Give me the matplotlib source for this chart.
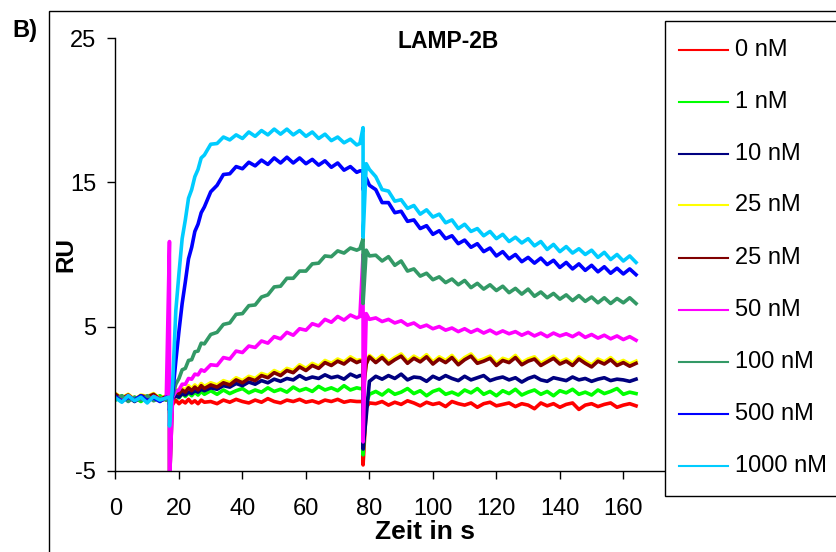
import matplotlib
matplotlib.use('Agg')
import matplotlib.pyplot as plt
from matplotlib.lines import Line2D
from matplotlib.patches import Rectangle

plt.rcParams['font.family'] = ['Liberation Sans', 'DejaVu Sans']
plt.rcParams['axes.unicode_minus'] = False

# sampling times (s); 17 and 78 appear twice for the injection spikes
t = [0, 2, 4, 6, 8, 10, 12, 14, 16,
     17, 17,
     18, 19, 20, 21, 22, 23, 24, 25, 26, 27, 28,
     30, 32, 34, 36, 38, 40, 42, 44, 46, 48, 50, 52, 54, 56, 58, 60, 62, 64, 66, 68, 70, 72, 74, 76,
     77, 78, 78, 79, 80,
     82, 84, 86, 88, 90, 92, 94, 96, 98, 100, 102, 104, 106, 108, 110, 112, 114, 116, 118, 120,
     122, 124, 126, 128, 130, 132, 134, 136, 138, 140, 142, 144, 146, 148, 150, 152, 154, 156, 158, 160,
     162, 164]

labels = ['0 nM', '1 nM', '10 nM', '25 nM', '25 nM', '50 nM', '100 nM', '500 nM', '1000 nM']
colors = ['#FF0000', '#00FF00', '#000080', '#FFFF00', '#800000', '#FF00FF', '#339966', '#0000FF', '#00CCFF']

ru_0 = [0.1, -0.2, 0.2, -0.1, 0.15, -0.2, 0.1, -0.15, 0.0,
        0.0, -0.3,
        -0.4, -0.1, -0.35, -0.15, -0.3, -0.05, -0.3, -0.15, -0.35, -0.1, -0.25,
        -0.2, -0.35, -0.1, -0.25, -0.05, -0.2, -0.3, -0.1, -0.25, 0.0, -0.2, -0.3,
        -0.1, -0.2, -0.05, -0.25, -0.15, -0.3, -0.1, -0.2, -0.05, -0.25, -0.15, -0.2,
        -0.2, -0.2, -4.6, -0.6, -0.3,
        -0.35, -0.2, -0.45, -0.25, -0.4, -0.15, -0.3, -0.5, -0.25, -0.4,
        -0.3, -0.55, -0.2, -0.35, -0.45, -0.3, -0.6, -0.35, -0.25, -0.5,
        -0.4, -0.3, -0.55, -0.35, -0.45, -0.7, -0.3, -0.5, -0.35, -0.6,
        -0.4, -0.3, -0.75, -0.45, -0.35, -0.55, -0.4, -0.3, -0.6, -0.45,
        -0.35, -0.5]

ru_1 = [-0.1, 0.2, -0.15, 0.1, -0.2, 0.15, -0.05, 0.2, -0.1,
        0.0, -0.2,
        0.1, 0.3, 0.05, 0.35, 0.15, 0.4, 0.2, 0.45, 0.25, 0.5, 0.3,
        0.55, 0.3, 0.6, 0.35, 0.55, 0.7, 0.4, 0.6, 0.45, 0.75, 0.5, 0.65,
        0.45, 0.8, 0.55, 0.7, 0.5, 0.85, 0.6, 0.75, 0.55, 0.9, 0.6, 0.75,
        0.7, 0.7, -3.9, -0.3, 0.3,
        0.5, 0.25, 0.6, 0.3, 0.45, 0.7, 0.35, 0.55, 0.2, 0.5,
        0.65, 0.3, 0.45, 0.25, 0.6, 0.4, 0.7, 0.3, 0.5, 0.2,
        0.55, 0.35, 0.65, 0.25, 0.45, 0.6, 0.3, 0.5, 0.2, 0.55,
        0.4, 0.65, 0.3, 0.45, 0.25, 0.6, 0.35, 0.5, 0.7, 0.3,
        0.45, 0.35]

ru_10 = [0.2, -0.1, 0.15, -0.2, 0.1, -0.1, 0.25, -0.15, 0.05,
         0.0, -0.4,
         0.0, 0.2, 0.1, 0.35, 0.25, 0.45, 0.35, 0.55, 0.45, 0.65, 0.55,
         0.75, 0.65, 0.9, 0.8, 1.05, 0.9, 1.15, 1.0, 1.25, 1.1, 1.35, 1.2,
         1.4, 1.3, 1.6, 1.35, 1.5, 1.4, 1.65, 1.45, 1.55, 1.35, 1.7, 1.5,
         1.6, 1.6, -3.5, -1.2, 1.2,
         1.55, 1.35, 1.6, 1.4, 1.7, 1.3, 1.5, 1.45, 1.2, 1.55,
         1.35, 1.6, 1.4, 1.25, 1.55, 1.3, 1.45, 1.6, 1.25, 1.4,
         1.5, 1.3, 1.45, 1.15, 1.4, 1.55, 1.3, 1.2, 1.45, 1.35,
         1.25, 1.5, 1.3, 1.4, 1.2, 1.35, 1.45, 1.25, 1.35, 1.3,
         1.2, 1.35]

ru_25a = [0.35, 0.05, 0.3, -0.05, 0.25, 0.15, 0.35, 0.0, 0.2,
          0.0, -1.0,
          0.45, 0.65, 0.5, 0.75, 0.6, 0.9, 0.7, 0.95, 0.75, 1.05, 0.85,
          1.1, 0.95, 1.25, 1.1, 1.45, 1.25, 1.55, 1.4, 1.75, 1.6, 1.95, 1.75,
          2.1, 1.95, 2.35, 2.1, 2.45, 2.25, 2.65, 2.45, 2.75, 2.55, 2.9, 2.65,
          2.7, 2.7, 0.5, 2.5, 3.0,
          2.65, 3.0, 2.55, 2.85, 3.1, 2.6, 2.95, 2.7, 3.05, 2.55,
          2.9, 2.65, 3.0, 2.5, 2.85, 3.1, 2.6, 2.75, 2.95, 2.45,
          2.8, 2.65, 3.0, 2.5, 2.75, 2.9, 2.45, 2.7, 2.95, 2.55,
          2.75, 2.45, 2.9, 2.6, 2.35, 2.75, 2.55, 2.85, 2.45, 2.65,
          2.4, 2.6]

ru_25b = [0.3, 0.0, 0.25, -0.1, 0.2, 0.1, 0.3, -0.05, 0.15,
          0.0, -6.0,
          0.3, 0.55, 0.35, 0.6, 0.45, 0.75, 0.55, 0.8, 0.6, 0.9, 0.7,
          0.95, 0.8, 1.1, 0.95, 1.3, 1.1, 1.4, 1.25, 1.6, 1.45, 1.8, 1.6,
          1.95, 1.8, 2.2, 1.95, 2.3, 2.1, 2.5, 2.3, 2.6, 2.4, 2.75, 2.5,
          2.6, 2.6, 0.5, 2.4, 2.9,
          2.5, 2.85, 2.4, 2.7, 2.95, 2.45, 2.8, 2.55, 2.9, 2.4,
          2.75, 2.5, 2.85, 2.35, 2.7, 2.95, 2.45, 2.6, 2.8, 2.3,
          2.65, 2.5, 2.85, 2.35, 2.6, 2.75, 2.3, 2.55, 2.8, 2.4,
          2.6, 2.3, 2.75, 2.45, 2.2, 2.6, 2.4, 2.7, 2.3, 2.5,
          2.25, 2.45]

ru_50 = [0.1, -0.15, 0.2, -0.1, 0.05, -0.2, 0.15, -0.05, 0.0,
         10.9, -6.0,
         0.1, 0.5, 0.6, 1.0, 1.0, 1.4, 1.35, 1.7, 1.65, 2.0, 1.9,
         2.35, 2.3, 2.85, 2.75, 3.3, 3.2, 3.65, 3.55, 4.0, 3.85, 4.3, 4.15,
         4.6, 4.4, 4.85, 4.75, 5.2, 5.05, 5.5, 5.3, 5.7, 5.45, 5.8, 5.6,
         5.7, 10.0, -3.0, 5.9, 5.5,
         5.6, 5.35, 5.5, 5.25, 5.4, 5.1, 5.25, 4.95, 5.1, 4.85,
         5.0, 4.75, 4.9, 4.65, 4.85, 4.6, 4.8, 4.55, 4.75, 4.5,
         4.7, 4.5, 4.65, 4.4, 4.6, 4.35, 4.55, 4.3, 4.55, 4.35,
         4.5, 4.3, 4.55, 4.25, 4.45, 4.2, 4.4, 4.15, 4.35, 4.1,
         4.3, 4.05]

ru_100 = [-0.05, 0.2, -0.2, 0.1, -0.1, 0.2, -0.15, 0.05, -0.1,
          0.0, 0.0,
          0.2, 1.0, 1.4, 2.0, 2.1, 2.65, 2.7, 3.25, 3.3, 3.85, 3.8,
          4.45, 4.6, 5.15, 5.25, 5.85, 5.9, 6.45, 6.5, 7.05, 7.2, 7.75, 7.8,
          8.35, 8.35, 8.85, 8.85, 9.35, 9.4, 9.9, 9.85, 10.25, 10.1, 10.45, 10.3,
          10.4, 11.1, 6.6, 10.3, 9.9,
          9.95, 9.55, 9.85, 9.25, 9.55, 8.85, 9.0, 8.5, 8.7, 8.25,
          8.45, 8.05, 8.3, 7.9, 8.2, 7.7, 8.0, 7.6, 7.9, 7.5,
          7.8, 7.35, 7.65, 7.25, 7.6, 7.1, 7.4, 7.0, 7.3, 6.9,
          7.2, 6.8, 7.15, 6.75, 7.05, 6.65, 7.0, 6.6, 6.95, 6.65,
          7.0, 6.6]

ru_500 = [0.15, -0.2, 0.1, -0.1, 0.2, -0.15, 0.05, -0.2, 0.1,
          0.0, -0.8,
          0.3, 2.6, 4.7, 6.6, 8.1, 9.7, 10.5, 11.6, 12.1, 12.9, 13.3,
          14.35, 14.8, 15.55, 15.6, 16.1, 15.95, 16.4, 16.15, 16.55, 16.25, 16.7, 16.35,
          16.75, 16.35, 16.7, 16.3, 16.6, 16.2, 16.5, 16.05, 16.35, 15.85, 16.1, 15.7,
          15.8, 15.8, 14.5, 15.3, 14.8,
          14.5, 13.6, 13.6, 12.9, 13.0, 12.3, 12.4, 11.8, 12.0, 11.4,
          11.65, 11.1, 11.3, 10.75, 11.0, 10.5, 10.75, 10.2, 10.45, 9.9,
          10.2, 9.7, 10.0, 9.5, 9.8, 9.4, 9.75, 9.3, 9.6, 9.1,
          9.45, 9.0, 9.35, 8.9, 9.25, 8.8, 9.15, 8.7, 9.05, 8.65,
          9.0, 8.6]

ru_1000 = [0.05, -0.25, 0.2, -0.15, 0.1, -0.3, 0.15, -0.1, 0.05,
           0.1, -1.9,
           1.0, 6.1, 8.7, 11.1, 12.4, 13.9, 14.5, 15.4, 15.9, 16.7, 16.9,
           17.65, 17.7, 18.15, 17.95, 18.3, 18.05, 18.5, 18.2, 18.6, 18.3, 18.7, 18.35,
           18.7, 18.3, 18.6, 18.2, 18.5, 18.05, 18.35, 17.9, 18.15, 17.75, 18.0, 17.6,
           17.7, 18.8, 11.2, 16.3, 15.9,
           15.4, 14.5, 14.4, 13.7, 13.8, 13.2, 13.4, 12.8, 13.1, 12.6,
           12.8, 12.2, 12.4, 11.8, 12.1, 11.6, 11.8, 11.3, 11.6, 11.1,
           11.4, 10.9, 11.2, 10.8, 11.1, 10.6, 10.9, 10.35, 10.7, 10.2,
           10.55, 10.1, 10.4, 10.0, 10.3, 9.8, 10.15, 9.65, 10.0, 9.55,
           9.9, 9.45]

series = [ru_0, ru_1, ru_10, ru_25a, ru_25b, ru_50, ru_100, ru_500, ru_1000]

W, H = 837, 552
fig = plt.figure(figsize=(W / 100, H / 100), dpi=100)

# plot area in pixels: x=0 at 115.5, 3.174 px per s; y=25 at 38.3, y=-5 at 470.7
x_max = 174
ax = fig.add_axes([115.5 / W, (H - 470.7) / H, x_max * 3.174 / W, (470.7 - 38.3) / H])

for vals, c in zip(series, colors):
    ax.plot(t, vals, color=c, lw=2.6)

ax.set_xlim(0, x_max)
ax.set_ylim(-5, 25)
ax.set_xticks(range(0, 161, 20))
ax.set_yticks([-5, 5, 15, 25])
for side in ['top', 'right']:
    ax.spines[side].set_visible(False)
for side in ['left', 'bottom']:
    ax.spines[side].set_linewidth(1.0)
ax.tick_params(direction='out', length=6, width=1.0, labelsize=17)
ax.tick_params(axis='x', pad=14)
ax.tick_params(axis='y', pad=8)

ax.set_xlabel('Zeit in s', fontsize=19, fontweight='bold')
ax.xaxis.set_label_coords((425 - 115.5) / 552.3, (470.7 - 532) / 432.4)
ax.xaxis.label.set_va('center')
ax.set_ylabel('RU', fontsize=17.5, fontweight='bold')
ax.yaxis.set_label_coords(-0.0905, 0.5)
ax.yaxis.label.set_va('center')

ax.text((448 - 115.5) / 552.3, (470.7 - 41) / 432.4, 'LAMP-2B', transform=ax.transAxes,
        ha='center', va='center', fontsize=16.5, fontweight='bold')

fig.text(25 / W, 1 - 31 / H, 'B)', ha='center', va='center', fontsize=17, fontweight='bold')

# outer chart frame (runs off the right and bottom edges)
fig.patches.append(Rectangle((49 / W, -0.05), 1.0, 1 - 11 / H + 0.05, transform=fig.transFigure,
                             fill=False, edgecolor='black', lw=1.0))

# legend box
fig.patches.append(Rectangle((665 / W, (H - 496) / H), 0.3, (496 - 21) / H, transform=fig.transFigure,
                             facecolor='white', edgecolor='black', lw=1.0, zorder=3))
for i, (lab, c) in enumerate(zip(labels, colors)):
    yy = 1 - (49.5 + 52 * i) / H
    fig.lines.append(Line2D([679 / W, 728 / W], [yy, yy], transform=fig.transFigure,
                            color=c, lw=1.5, zorder=4))
    fig.text(735 / W, yy, lab, ha='left', va='center', fontsize=17, zorder=4)

fig.savefig('out.png', dpi=100)
